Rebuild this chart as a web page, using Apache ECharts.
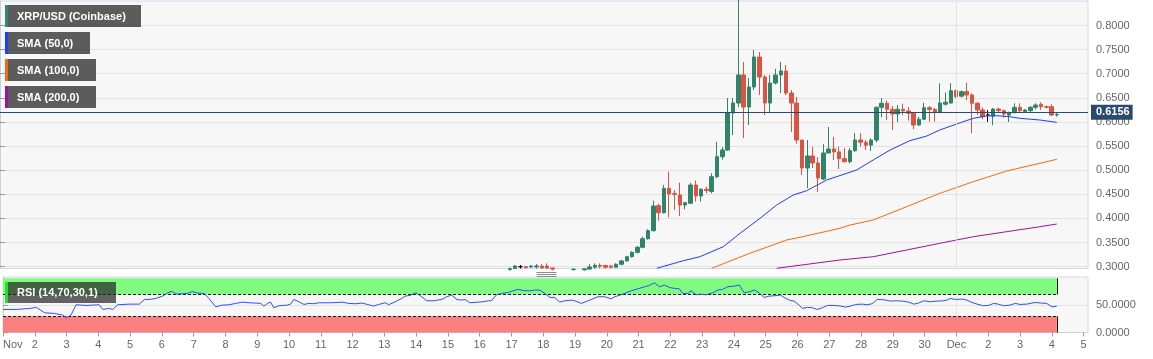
<!DOCTYPE html>
<html><head><meta charset="utf-8">
<script src="https://cdn.jsdelivr.net/npm/echarts@6/dist/echarts.min.js"></script>
<style>html,body{margin:0;padding:0;background:#fff}#c{width:1153px;height:359px}</style>
</head><body><div id="c"></div><script>
// ---- data ----
const candleStart = 96; // index of first visible 4h candle counted from Nov 1 00:00
const candleOpen = [0.2940,0.2965,0.3000,0.3000,0.2995,0.2995,0.3014,0.3014,0.2975,0.2950,0.2930,0.2920,0.2940,0.2945,0.2935,0.2950,0.2990,0.3028,0.3025,0.3014,
0.2990,0.3050,0.3120,0.3207,0.3297,0.3402,0.3580,0.3746,0.4265,0.4120,0.4625,0.4515,0.4486,0.4279,0.4314,0.4694,0.4466,0.4604,0.4560,0.4866,
0.5280,0.5419,0.6186,0.6393,0.6974,0.6310,0.6725,0.7347,0.6932,0.6393,0.6808,0.6974,0.7057,0.6600,0.6393,0.5626,0.5046,0.5295,0.5150,0.4818,
0.5357,0.5440,0.5380,0.5240,0.5177,0.5405,0.5626,0.5580,0.5520,0.5626,0.6304,0.6387,0.6263,0.6166,0.6263,0.6228,0.6180,0.5938,0.6056,0.6297,
0.6260,0.6200,0.6370,0.6393,0.6649,0.6535,0.6628,0.6559,0.6387,0.6248,0.6145,0.6120,0.6269,0.6235,0.6145,0.6193,0.6304,0.6214,0.6234,0.6304,
0.6366,0.6317,0.6317,0.6145];
const candleClose = [0.2960,0.3014,0.3000,0.2980,0.3014,0.3014,0.2973,0.2973,0.2950,0.2930,0.2920,0.2940,0.2945,0.2935,0.2955,0.2995,0.3028,0.3010,0.2990,0.2990,
0.3050,0.3120,0.3207,0.3297,0.3402,0.3580,0.3746,0.4258,0.4120,0.4625,0.4507,0.4500,0.4279,0.4327,0.4694,0.4466,0.4604,0.4580,0.4866,0.5280,
0.5419,0.6186,0.6393,0.6974,0.6310,0.6725,0.7347,0.6932,0.6393,0.6808,0.6974,0.7057,0.6600,0.6393,0.5626,0.5046,0.5295,0.5150,0.4839,0.5357,
0.5440,0.5380,0.5239,0.5177,0.5405,0.5626,0.5580,0.5520,0.5626,0.6304,0.6387,0.6263,0.6166,0.6263,0.6228,0.6180,0.5938,0.6056,0.6297,0.6260,
0.6200,0.6393,0.6410,0.6649,0.6524,0.6628,0.6559,0.6387,0.6248,0.6110,0.6145,0.6269,0.6235,0.6166,0.6193,0.6304,0.6234,0.6248,0.6304,0.6352,
0.6317,0.6305,0.6145,0.6156];
const candleLow = [0.2920,0.2950,0.2960,0.2960,0.2975,0.2960,0.2960,0.2950,0.2920,0.2900,0.2890,0.2900,0.2920,0.2910,0.2920,0.2940,0.2960,0.2965,0.2965,0.2965,
0.2985,0.3030,0.3105,0.3190,0.3275,0.3380,0.3560,0.3730,0.3954,0.4100,0.4024,0.4175,0.4051,0.4190,0.4300,0.4350,0.4350,0.4520,0.4520,0.4830,
0.5220,0.5400,0.5730,0.6310,0.5668,0.5938,0.6663,0.6559,0.6145,0.6207,0.6780,0.6600,0.6559,0.5792,0.5550,0.4901,0.4632,0.5046,0.4549,0.4797,
0.5350,0.5210,0.5025,0.5160,0.5140,0.5380,0.5490,0.5419,0.5400,0.5580,0.6100,0.6040,0.5830,0.6000,0.6140,0.6030,0.5850,0.5920,0.6040,0.6010,
0.6006,0.6180,0.6340,0.6380,0.6500,0.6510,0.6456,0.5765,0.6145,0.6055,0.6000,0.5930,0.6190,0.6090,0.6000,0.6180,0.6200,0.6200,0.6210,0.6260,
0.6250,0.6280,0.6124,0.6110];
const candleHigh = [0.2985,0.3035,0.3035,0.3010,0.3030,0.3055,0.3055,0.3069,0.2975,0.2960,0.2950,0.2955,0.2975,0.2960,0.2965,0.3055,0.3069,0.3069,0.3040,0.3040,
0.3070,0.3140,0.3225,0.3320,0.3430,0.3625,0.3775,0.4368,0.4306,0.4694,0.4970,0.4590,0.4741,0.4340,0.4741,0.4790,0.4625,0.4660,0.4935,0.5590,
0.5480,0.6497,0.6497,0.9000,0.7243,0.6912,0.7492,0.7451,0.6974,0.6974,0.7100,0.7243,0.7180,0.6663,0.6520,0.5626,0.5626,0.5481,0.5270,0.5540,
0.5896,0.5689,0.5490,0.5460,0.5460,0.5770,0.5770,0.5626,0.5660,0.6320,0.6497,0.6442,0.6330,0.6350,0.6380,0.6310,0.6210,0.6110,0.6400,0.6330,
0.6290,0.6802,0.6610,0.6802,0.6670,0.6650,0.6814,0.6594,0.6410,0.6300,0.6248,0.6290,0.6290,0.6260,0.6214,0.6387,0.6387,0.6270,0.6330,0.6387,
0.6410,0.6340,0.6366,0.6186];

const sma50Days = [20.61,21.44,21.96,22.70,23.22,23.85,24.37,24.89,25.31,25.94,26.88,27.40,27.93,28.55,29.08,29.49,30.02,30.54,30.96,31.27,31.69,32.00,32.63,33.16];
const sma50 = [0.2967,0.3124,0.3207,0.3415,0.3692,0.4003,0.4279,0.4486,0.4575,0.4797,0.5005,0.5212,0.5419,0.5612,0.5709,0.5834,0.5958,0.6076,0.6124,0.6130,0.6109,0.6076,0.6041,0.5993];
const sma100Days = [22.33,23.53,24.68,25.10,26.36,26.67,27.40,28.45,29.49,30.54,31.59,32.63,33.16];
const sma100 = [0.2967,0.3278,0.3553,0.3609,0.3796,0.3864,0.3968,0.4244,0.4521,0.4762,0.4984,0.5143,0.5226];
const sma200Days = [24.37,26.36,27.40,28.45,29.49,30.54,31.59,32.63,33.16];
const sma200 = [0.2967,0.3139,0.3207,0.3346,0.3485,0.3622,0.3726,0.3829,0.3885];

const rsiDays = [0.00,0.42,0.84,1.05,1.31,1.62,1.88,1.99,2.14,2.30,2.61,3.03,3.14,3.35,3.45,3.61,3.97,4.29,4.45,4.60,4.81,5.02,5.23,5.33,5.44,5.65,5.80,5.96,6.12,6.33,6.48,6.69,6.90,7.11,7.32,7.53,7.74,7.95,8.11,8.21,8.32,8.42,8.52,8.68,8.94,9.05,9.15,9.31,9.47,9.62,9.78,9.94,10.30,10.56,10.67,10.88,11.09,11.30,11.51,11.66,11.82,12.03,12.13,12.34,
12.55,12.66,12.81,12.99,13.13,13.34,13.54,13.81,13.96,14.12,14.28,14.43,14.54,14.69,14.96,15.11,15.27,15.37,15.53,15.69,15.90,16.05,16.21,16.42,16.58,16.73,16.89,17.05,17.21,17.36,17.52,17.68,17.89,17.99,18.20,18.41,18.57,18.72,18.93,19.14,19.25,19.51,19.77,19.98,20.19,20.34,20.50,20.66,20.81,20.97,21.13,21.28,21.39,21.55,21.65,21.81,21.96,22.12,22.33,22.49,22.64,22.80,23.01,23.17,23.32,23.48,23.64,23.79,23.95,24.11,24.26,
24.47,24.58,24.74,24.89,25.05,25.15,25.31,25.47,25.62,25.78,25.94,26.15,26.36,26.51,26.67,26.83,27.04,27.19,27.35,27.51,27.72,27.93,28.14,28.29,28.50,28.66,28.81,28.97,29.18,29.39,29.60,29.70,29.81,29.97,30.18,30.33,30.49,30.65,30.85,31.01,31.17,31.32,31.48,31.69,31.85,32.00,32.21,32.48,32.68,32.84,33.00,33.10,33.16];
const rsiValues = [42.5,42.5,44.4,46.2,36.4,35.1,32.1,27.2,32.1,51.1,49.9,51.1,42.5,44.4,42.5,51.1,52.3,52.3,60.9,60.9,62.8,67.1,74.5,75.7,70.8,71.4,72.0,75.7,72.6,72.0,62.8,47.4,50.5,51.1,53.6,56.0,54.8,54.2,53.6,48.7,53.6,56.0,45.6,49.3,50.5,52.3,60.9,56.6,51.7,53.6,53.0,54.8,54.8,55.4,56.0,53.6,53.0,54.2,51.1,48.7,51.7,54.8,51.1,56.6,
63.0,67.1,68.3,73.2,67.7,58.5,58.5,60.9,65.9,68.9,60.9,59.7,60.9,54.8,56.0,56.6,58.5,58.5,69.6,72.0,73.9,76.9,79.4,76.9,76.9,78.2,78.2,72.0,64.6,64.6,56.0,58.5,59.7,58.5,53.6,58.5,62.2,65.9,65.9,62.2,65.9,70.8,76.9,80.6,84.3,86.8,91.7,84.3,87.4,83.1,81.2,80.6,72.0,72.0,76.9,69.6,70.8,69.6,73.2,78.2,79.4,84.3,85.5,87.4,73.2,75.1,78.2,73.2,64.6,67.1,67.7,
68.9,64.6,59.7,57.9,50.5,44.4,46.2,45.6,42.5,45.6,49.9,49.9,48.7,46.8,48.7,51.7,52.3,51.1,53.0,60.9,60.3,57.9,58.5,57.9,56.0,52.3,54.2,58.5,56.6,57.9,58.5,59.7,62.8,60.9,61.6,59.7,55.4,52.3,49.3,49.9,53.6,52.3,49.3,50.5,53.6,51.7,52.3,55.4,54.2,53.6,47.4,48.1,48.7];

const lastPrice = 0.6156;
const priceTicks = [0.30,0.35,0.40,0.45,0.50,0.55,0.60,0.65,0.70,0.75,0.80];
const rsiTicks = [0, 50];
const rsiUpper = 70, rsiLower = 30, rsiTop = 100;
const dayTicks = [0,1,2,3,4,5,6,7,8,9,10,11,12,13,14,15,16,17,18,19,20,21,22,23,24,25,26,27,28,29,30,31,32,33,34];
const xTickLabels = ['Nov','2','3','4','5','6','7','8','9','10','11','12','13','14','15','16','17','18','19','20','21','22','23','24','25','26','27','28','29','30','Dec','2','3','4','5'];
const monthStartDay = 30;
const legendNames = ['XRP/USD (Coinbase)','SMA (50,0)','SMA (100,0)','SMA (200,0)'];
const rsiName = 'RSI (14,70,30,1)';

// ---- chart ----
const UP = '#2f8469', DOWN = '#d95442';
const FONT = '"Liberation Sans", Arial, sans-serif';
const chart = echarts.init(document.getElementById('c'), null, {renderer:'canvas'});
const candleData = candleOpen.map((o,k)=>[(candleStart+k)/6, o, candleClose[k], candleLow[k], candleHigh[k]]);
const zip = (a,b)=>a.map((d,k)=>[d,b[k]]);
const lastDay = rsiDays[rsiDays.length-1];
const xMax = 34.14;

function legendBox(y, w, h, color, text, fill){
  return {type:'group', left:5, top:y, z:100, children:[
    {type:'rect', z:100, shape:{x:0,y:0,width:w,height:h}, style:{fill:fill}},
    {type:'rect', z:101, shape:{x:0,y:0,width:3,height:h}, style:{fill:color}},
    {type:'text', z:102, x:12, y:h/2+0.5, style:{text:text, fill:'#fff', font:'bold 11px '+FONT, align:'left', verticalAlign:'middle'}}
  ]};
}

const option = {
  animation:false,
  backgroundColor:'#ffffff',
  grid:[
    {left:0, top:1, width:1088, height:267.5, show:true, backgroundColor:'#f7f7f7', borderColor:'#d3d8e8', borderWidth:1},
    {left:0, top:277, width:1088, height:55.5, show:true, backgroundColor:'#f7f7f7', borderColor:'#d3d8e8', borderWidth:1}
  ],
  xAxis:[
    {type:'value', gridIndex:0, min:0, max:xMax, axisLine:{show:false}, axisTick:{show:false}, axisLabel:{show:false}, splitLine:{show:false}},
    {type:'value', gridIndex:1, min:0, max:xMax,
      axisLine:{show:true, lineStyle:{color:'#c8cfe3'}},
      axisTick:{show:true, length:4, customValues:dayTicks, lineStyle:{color:'#9a9a9a'}},
      axisLabel:{show:true, customValues:dayTicks, margin:7, fontSize:11, fontFamily:FONT, color:'#666',
        formatter:(v)=>xTickLabels[Math.round(v)] ?? '', alignMinLabel:'left'},
      splitLine:{show:false}}
  ],
  yAxis:[
    {type:'value', gridIndex:0, position:'right', min:0.29627, max:0.85079, scale:true,
      axisLine:{show:true, lineStyle:{color:'#c8cfe3'}},
      axisTick:{show:true, length:5, customValues:priceTicks, lineStyle:{color:'#9a9a9a'}},
      axisLabel:{show:true, customValues:priceTicks, margin:8, fontSize:11, fontFamily:FONT, color:'#666', formatter:(v)=>v.toFixed(4)},
      splitLine:{show:true, lineStyle:{color:'#e2e2e2'}}},
    {type:'value', gridIndex:1, position:'right', min:0, max:102.3,
      axisLine:{show:true, lineStyle:{color:'#c8cfe3'}},
      axisTick:{show:true, length:5, customValues:rsiTicks, lineStyle:{color:'#9a9a9a'}},
      axisLabel:{show:true, customValues:rsiTicks, margin:8, fontSize:11, fontFamily:FONT, color:'#666', formatter:(v)=>v.toFixed(4)},
      splitLine:{show:true, lineStyle:{color:'#e2e2e2'}}}
  ],
  series:[
    {type:'line', xAxisIndex:0, yAxisIndex:0, data:[], silent:true,
      markLine:{silent:true, symbol:['none','none'], label:{show:false}, lineStyle:{color:'#e2e2e2', width:1, type:'solid'}, data:[{xAxis:monthStartDay}]}},
    {type:'line', name:'SMA200', xAxisIndex:0, yAxisIndex:0, data:zip(sma200Days,sma200), showSymbol:false, clip:true, lineStyle:{color:'#9a14a0', width:1}},
    {type:'line', name:'SMA100', xAxisIndex:0, yAxisIndex:0, data:zip(sma100Days,sma100), showSymbol:false, clip:true, lineStyle:{color:'#f56a10', width:1}},
    {type:'line', name:'SMA50', xAxisIndex:0, yAxisIndex:0, data:zip(sma50Days,sma50), showSymbol:false, clip:true, lineStyle:{color:'#1f3cff', width:1}},
    {type:'candlestick', name:'XRP', xAxisIndex:0, yAxisIndex:0, data:candleData, encode:{x:0, y:[1,2,3,4]},
      barWidth:4, clip:true,
      itemStyle:{color:UP, color0:DOWN, borderColor:UP, borderColor0:DOWN, borderColorDoji:'#000', borderWidth:1},
      markLine:{silent:true, symbol:['none','none'], lineStyle:{color:'#2b4a70', width:1, type:'solid'},
        label:{show:true, position:'end', distance:3, formatter:()=>lastPrice.toFixed(4), backgroundColor:'#2b4a70', color:'#fff',
          fontWeight:'bold', fontSize:11, fontFamily:FONT, padding:[2,3,2,5]},
        data:[{yAxis:lastPrice}]}},
    {type:'line', name:'RSI', xAxisIndex:1, yAxisIndex:1, data:zip(rsiDays,rsiValues), showSymbol:false, clip:true, z:5,
      lineStyle:{color:'#2b50ff', width:1},
      markArea:{silent:true, itemStyle:{borderWidth:0}, data:[
        [{coord:[0,rsiUpper], itemStyle:{color:'#80fb80'}},{coord:[lastDay,rsiTop]}],
        [{coord:[0,0], itemStyle:{color:'#fa8080'}},{coord:[lastDay,rsiLower]}]
      ]},
      markLine:{silent:true, symbol:['none','none'], label:{show:false}, data:[
        [{coord:[0,rsiUpper], lineStyle:{color:'#111', type:[3,2], width:1}},{coord:[lastDay,rsiUpper]}],
        [{coord:[0,rsiLower], lineStyle:{color:'#111', type:[3,2], width:1}},{coord:[lastDay,rsiLower]}],
        [{coord:[lastDay,rsiUpper], lineStyle:{color:'#111', type:'solid', width:1}},{coord:[lastDay,rsiTop]}],
        [{coord:[lastDay,0], lineStyle:{color:'#111', type:'solid', width:1}},{coord:[lastDay,rsiLower]}],
        [{coord:[monthStartDay,rsiLower], lineStyle:{color:'#e6e6e6', type:'solid', width:1}},{coord:[monthStartDay,rsiUpper]}]
      ]}}
  ],
  graphic:[
    legendBox(5,136,22,'#2f8a6e',legendNames[0],'rgba(40,40,40,0.75)'),
    legendBox(32,85,22,'#1f3cff',legendNames[1],'rgba(40,40,40,0.75)'),
    legendBox(59,91,22,'#f56a10',legendNames[2],'rgba(40,40,40,0.75)'),
    legendBox(86,91,22,'#9a14a0',legendNames[3],'rgba(40,40,40,0.75)'),
    legendBox(282,111,21,'#1ee61e',rsiName,'rgba(40,40,40,0.72)'),
    {type:'group', left:534, top:270, z:100, children:[
      {type:'line', shape:{x1:0,y1:0.5,x2:20,y2:0.5}, style:{stroke:'#8c8c8c', lineWidth:1}},
      {type:'line', shape:{x1:0,y1:2.5,x2:20,y2:2.5}, style:{stroke:'#8c8c8c', lineWidth:1}},
      {type:'line', shape:{x1:0,y1:4.5,x2:20,y2:4.5}, style:{stroke:'#8c8c8c', lineWidth:1}}
    ]}
  ]
};
chart.setOption(option);
</script></body></html>
